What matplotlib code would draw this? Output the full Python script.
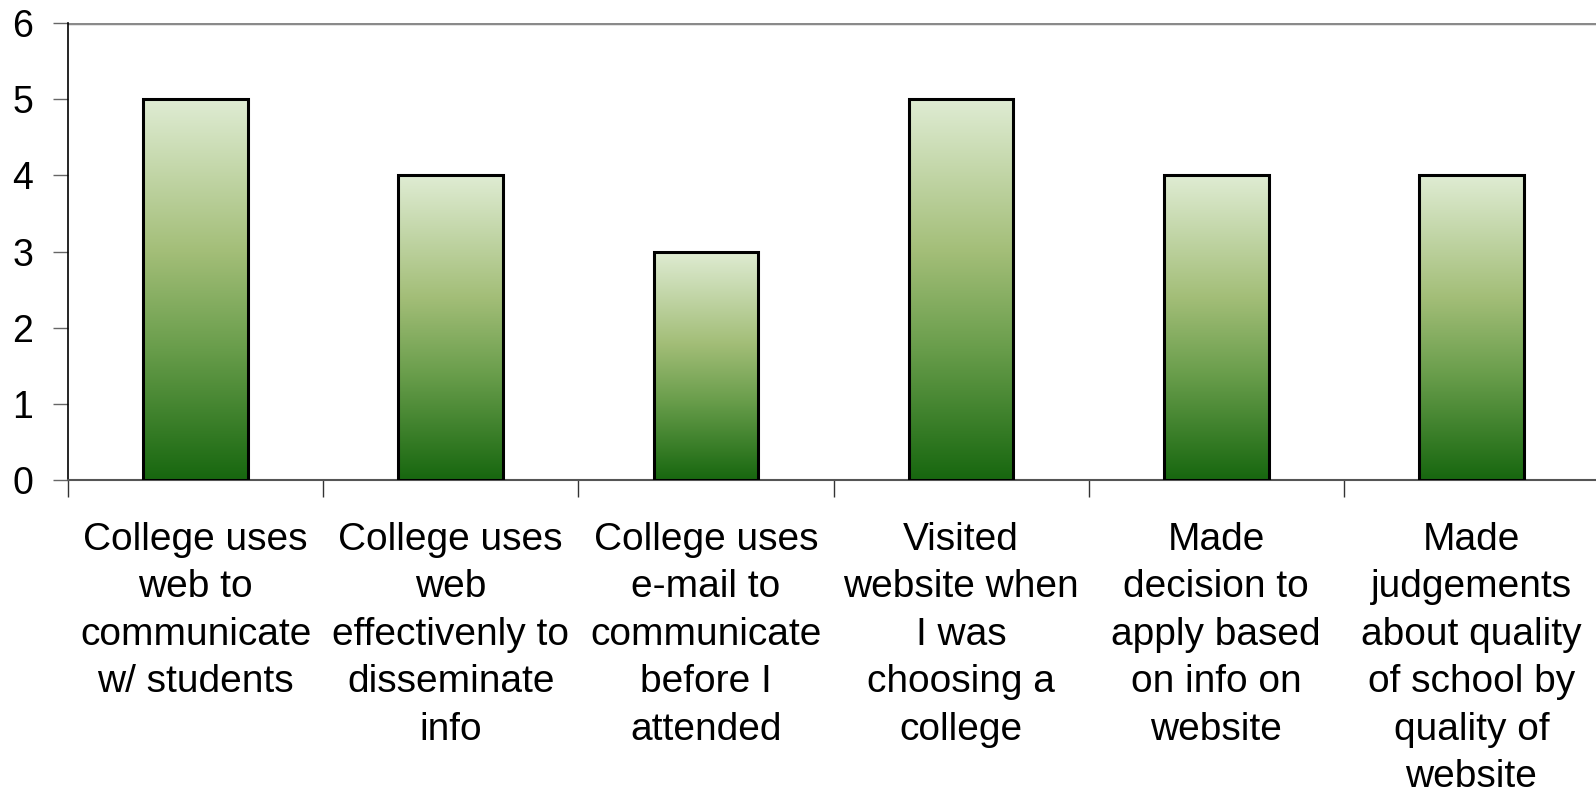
import numpy as np
import matplotlib
matplotlib.use("Agg")
import matplotlib.pyplot as plt
from matplotlib.colors import LinearSegmentedColormap

categories = [
    "College uses\nweb to\ncommunicate\nw/ students",
    "College uses\nweb\neffectivenly to\ndisseminate\ninfo",
    "College uses\ne-mail to\ncommunicate\nbefore I\nattended",
    "Visited\nwebsite when\nI was\nchoosing a\ncollege",
    "Made\ndecision to\napply based\non info on\nwebsite",
    "Made\njudgements\nabout quality\nof school by\nquality of\nwebsite",
]
values = [5, 4, 3, 5, 4, 4]
yticks = [0, 1, 2, 3, 4, 5, 6]

plt.rcParams['font.family'] = ['Liberation Sans', 'DejaVu Sans']

W, H = 1596, 795
fig = plt.figure(figsize=(W / 100, H / 100), dpi=100)
ax = fig.add_axes([68 / W, (H - 480) / H, (1599 - 68) / W, (480 - 23) / H])

cmap = LinearSegmentedColormap.from_list(
    "g", [(0.0, "#17670f"), (0.35, "#6a9e4c"), (0.6, "#a3be78"), (1.0, "#dfecd3")])
grad = np.linspace(0, 1, 256).reshape(-1, 1)

n = len(values)
x = np.arange(n)
bw = 0.41
bars = ax.bar(x, values, width=bw, facecolor="none", edgecolor="black",
              linewidth=2.2, zorder=3)
for b in bars:
    x0, y0 = b.get_x(), b.get_y()
    w, h = b.get_width(), b.get_height()
    im = ax.imshow(grad, cmap=cmap, origin="lower", aspect="auto",
                   extent=[x0, x0 + w, y0, y0 + h], zorder=2)
    im.set_clip_path(b)

ax.set_xlim(-0.5, n - 0.5)
ax.set_ylim(0, 6)
ax.set_yticks(yticks)
ax.set_yticklabels([str(t) for t in yticks], fontsize=27)
ax.tick_params(axis="y", length=11, width=1, color="#666666", pad=14, labelcolor="black")

ax.set_xticks(x)
ax.set_xticklabels(categories, fontsize=28, linespacing=1.41, va="top")
ax.tick_params(axis="x", which="major", length=0, pad=30)
ax.set_xticks(np.arange(-0.5, n, 1.0), minor=True)
ax.tick_params(axis="x", which="minor", length=12, width=1, color="#333333")

ax.axhline(6, color="#8a8a8a", linewidth=2.5, zorder=1)
for s in ["top", "right"]:
    ax.spines[s].set_visible(False)
ax.spines["left"].set_color("black")
ax.spines["left"].set_linewidth(1.2)
ax.spines["bottom"].set_color("#555555")
ax.spines["bottom"].set_linewidth(1.5)

fig.savefig("out.png", dpi=100, facecolor="white")
